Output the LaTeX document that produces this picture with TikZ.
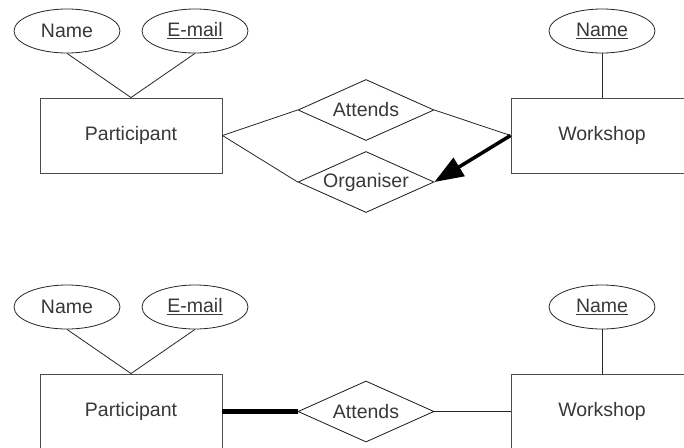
\documentclass[tikz,border=0pt]{standalone}
\usepackage{fontspec}
\setmainfont{Liberation Sans}
\usetikzlibrary{shapes.geometric,arrows.meta}

\begin{document}
\begin{tikzpicture}[x=1pt,y=-1pt,
	every node/.style={text=black!78,font=\fontsize{19.5}{22}\selectfont},
	entity/.style={draw=black!70,line width=0.9pt,rectangle,minimum width=182pt,minimum height=75pt,inner sep=0pt},
	attrib/.style={draw=black!85,line width=0.8pt,ellipse,minimum width=106pt,minimum height=44pt,inner sep=0pt},
	relship/.style={draw=black!90,line width=0.8pt,diamond,aspect=2.23,minimum width=136pt,minimum height=61pt,inner sep=0pt},
	link/.style={draw=black!85,line width=0.8pt}]
	\useasboundingbox (0,0) rectangle (684,447);
	%%%%% TOP %%%%%
	\node[attrib] (pname) at (67,31) {Name};
	\node[attrib] (pmail) at (195,31) {\underline{E-mail}};
	\node[entity] (part) at (131,135.5) {Participant};
	\node[relship] (attends) at (366,110) {Attends};
	\node[relship] (organiser) at (366,182) {Organiser};
	\node[entity] (work) at (602,135.5) {Workshop};
	\node[attrib] (wname) at (602,31) {\underline{Name}};
	
	\draw[link] (pname.south) -- (part.north) -- (pmail.south);
	\draw[link] (wname.south) -- (work.north);
	\draw[link] (part.east) -- (attends.west);
	\draw[link] (part.east) -- (organiser.west);
	\draw[link] (attends.east) -- (work.west);
	\draw[line width=3.5pt,-{Triangle[length=29pt,width=21pt]}] (work.west) -- (organiser.east);
	
	%%%%% BOTTOM %%%%%
	\node[attrib] (pname2) at (67,307) {Name};
	\node[attrib] (pmail2) at (195,307) {\underline{E-mail}};
	\node[entity] (part2) at (131,411.5) {Participant};
	\node[relship] (attends2) at (366,411.5) {Attends};
	\node[entity] (work2) at (602,411.5) {Workshop};
	\node[attrib] (wname2) at (602,307) {\underline{Name}};
	
	\draw[link] (pname2.south) -- (part2.north) -- (pmail2.south);
	\draw[link] (wname2.south) -- (work2.north);
	\draw[line width=4.5pt] (part2.east) -- (attends2.west);
	\draw[link] (attends2.east) -- (work2.west);
\end{tikzpicture}
\end{document}
